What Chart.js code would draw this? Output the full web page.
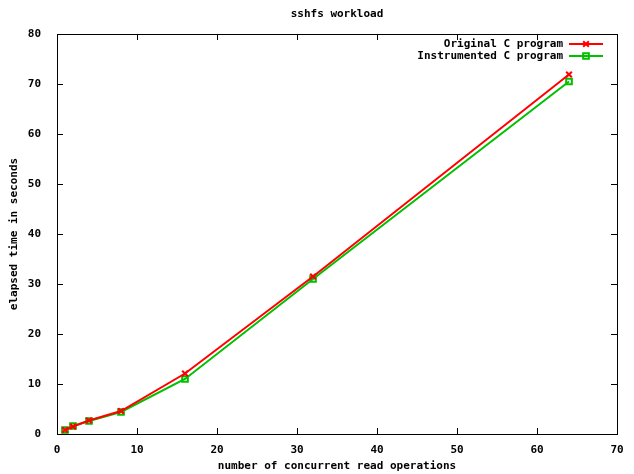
<!DOCTYPE html>
<html>
<head>
<meta charset="utf-8">
<script src="https://cdn.jsdelivr.net/npm/chart.js@4/dist/chart.umd.min.js"></script>
<style>
  html, body { margin: 0; padding: 0; background: #fff; }
  #wrap { width: 634px; height: 474px; }
</style>
</head>
<body>
<div id="wrap"><canvas id="chart" width="634" height="474"></canvas></div>
<script>
// concurrent read operations
const readOps = [1, 2, 4, 8, 16, 32, 64];
// elapsed seconds
const originalTimes = [0.8, 1.5, 2.7, 4.6, 12.1, 31.5, 71.9];
const instrumentedTimes = [0.8, 1.6, 2.6, 4.4, 11.0, 31.0, 70.5];

const xTicks = [0, 10, 20, 30, 40, 50, 60, 70];
const yTicks = [0, 10, 20, 30, 40, 50, 60, 70, 80];

const FONT = 'bold 11px "DejaVu Sans Mono", "Liberation Mono", monospace';

function toPoints(xs, ys) {
    return xs.map((x, i) => ({ x, y: ys[i] }));
}

// gnuplot-ish frame: box + inward ticks on all four sides
const framePlugin = {
    id: 'frame',
    afterDatasetsDraw(chart) {
        const { ctx, chartArea: a, scales } = chart;
        ctx.save();
        ctx.strokeStyle = '#000';
        ctx.lineWidth = 1;
        ctx.strokeRect(Math.round(a.left) + 0.5, Math.round(a.top) + 0.5,
            Math.round(a.right - a.left), Math.round(a.bottom - a.top));
        ctx.beginPath();
        xTicks.forEach(v => {
            const px = Math.round(scales.x.getPixelForValue(v)) + 0.5;
            ctx.moveTo(px, a.bottom); ctx.lineTo(px, a.bottom - 6);
            ctx.moveTo(px, a.top); ctx.lineTo(px, a.top + 6);
        });
        yTicks.forEach(v => {
            const py = Math.round(scales.y.getPixelForValue(v)) + 0.5;
            ctx.moveTo(a.left, py); ctx.lineTo(a.left + 6, py);
            ctx.moveTo(a.right, py); ctx.lineTo(a.right - 6, py);
        });
        ctx.stroke();

        // title
        ctx.fillStyle = '#000';
        ctx.font = FONT;
        ctx.textAlign = 'center';
        ctx.textBaseline = 'middle';
        ctx.fillText('sshfs workload', (a.left + a.right) / 2, 14);

        // key, top right inside the plot
        const textRight = a.right - 54;
        const lineL = a.right - 48, lineR = a.right - 14;
        chart.data.datasets.forEach((ds, i) => {
            const y = a.top + 10 + i * 12;
            ctx.textAlign = 'right';
            ctx.fillStyle = '#000';
            ctx.fillText(ds.label, textRight, y);
            ctx.strokeStyle = ds.borderColor;
            ctx.lineWidth = 2;
            ctx.beginPath();
            ctx.moveTo(lineL, y); ctx.lineTo(lineR, y);
            ctx.stroke();
            ctx.fillStyle = ds.backgroundColor;
            Chart.helpers.drawPoint(ctx, {
                pointStyle: ds.pointStyle,
                radius: ds.pointRadius,
                borderWidth: 2
            }, (lineL + lineR) / 2, y);
        });
        ctx.restore();
    }
};

const axisFont = { family: '"DejaVu Sans Mono", monospace', size: 11, weight: 'bold' };

new Chart(document.getElementById('chart'), {
    type: 'line',
    data: {
        datasets: [
            {
                label: 'Original C program',
                data: toPoints(readOps, originalTimes),
                borderColor: '#ff0000',
                backgroundColor: '#ff0000',
                borderWidth: 2,
                pointStyle: 'crossRot',
                pointRadius: 4,
                pointBorderWidth: 2,
                tension: 0
            },
            {
                label: 'Instrumented C program',
                data: toPoints(readOps, instrumentedTimes),
                borderColor: '#00c000',
                backgroundColor: 'rgba(0,0,0,0)',
                borderWidth: 2,
                pointStyle: 'rect',
                pointRadius: 4,
                pointBorderWidth: 2,
                tension: 0
            }
        ]
    },
    options: {
        responsive: false,
        animation: false,
        layout: { padding: { top: 34, right: 17, left: 0, bottom: 0 } },
        plugins: {
            legend: { display: false },
            tooltip: { enabled: false },
            title: { display: false }
        },
        scales: {
            x: {
                type: 'linear',
                min: 0, max: 70,
                grid: { display: false },
                border: { display: false },
                afterFit: s => { s.height = 40; },
                afterBuildTicks: s => { s.ticks = xTicks.map(v => ({ value: v })); },
                ticks: { color: '#000', font: axisFont, padding: 2, maxRotation: 0 },
                title: {
                    display: true,
                    text: 'number of concurrent read operations',
                    color: '#000',
                    font: axisFont,
                    padding: { top: 4, bottom: 1 }
                }
            },
            y: {
                type: 'linear',
                min: 0, max: 80,
                grid: { display: false },
                border: { display: false },
                afterFit: s => { s.width = 57; },
                afterBuildTicks: s => { s.ticks = yTicks.map(v => ({ value: v })); },
                ticks: { color: '#000', font: axisFont, padding: 8 },
                title: {
                    display: true,
                    text: 'elapsed time in seconds',
                    color: '#000',
                    font: axisFont,
                    padding: { top: 8, bottom: 0 }
                }
            }
        }
    },
    plugins: [framePlugin]
});
</script>
</body>
</html>
